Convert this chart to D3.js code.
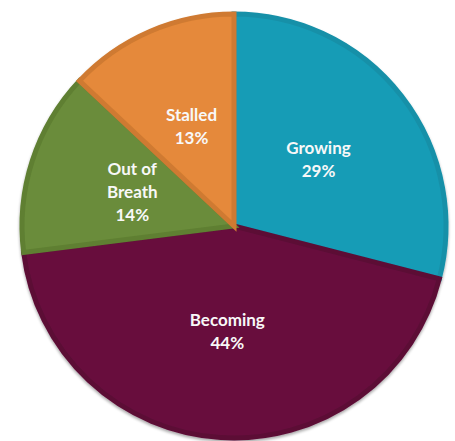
<!DOCTYPE html>
<html>
<head>
<meta charset="utf-8">
<script src="https://cdn.jsdelivr.net/npm/d3@7"></script>
<style>
  html, body { margin: 0; padding: 0; background: #ffffff; }
  svg { display: block; }
</style>
</head>
<body>
<svg id="chart" width="455" height="441"></svg>
<script>
// Segment shares, clockwise from 12 o'clock
const categories = ["Growing", "Becoming", "Out of Breath", "Stalled"];
const shares = [29, 44, 14, 13];
const labelLines = [["Growing"], ["Becoming"], ["Out of", "Breath"], ["Stalled"]];
const fills = ["#199cb6", "#680f3e", "#6a8c3a", "#e5893a"];
const edges = ["#1590a8", "#5c0c36", "#5e7f32", "#cf7a30"];

const svg = d3.select("#chart");
const cx = 234, cy = 226, r = 214;

const data = categories.map((c, i) => ({ name: c, value: shares[i], lines: labelLines[i], i }));

const pie = d3.pie().sort(null).value(d => d.value);
const arcs = pie(data);
const arc = d3.arc().innerRadius(0).outerRadius(r);
const innerArc = d3.arc().innerRadius(0).outerRadius(r - 2);

const g = svg.append("g").attr("transform", `translate(${cx},${cy})`);

// soft shadow under the disc
const defs = svg.append("defs");
const f = defs.append("filter").attr("id", "shadow").attr("x", "-10%").attr("y", "-10%").attr("width", "120%").attr("height", "120%");
f.append("feGaussianBlur").attr("in", "SourceAlpha").attr("stdDeviation", 1.5);
f.append("feOffset").attr("dx", 0).attr("dy", 1.5).attr("result", "b");
f.append("feComponentTransfer").append("feFuncA").attr("type", "linear").attr("slope", 0.35);
const m = f.append("feMerge");
m.append("feMergeNode");
m.append("feMergeNode").attr("in", "SourceGraphic");

const slices = g.append("g").attr("filter", "url(#shadow)");

slices.selectAll("path.slice")
  .data(arcs)
  .join("path")
  .attr("class", "slice")
  .attr("d", innerArc)
  .attr("fill", d => fills[d.data.i])
  .attr("stroke", d => edges[d.data.i])
  .attr("stroke-width", 5)
  .attr("stroke-linejoin", "miter");

// labels at the centroid of each slice
const lineH = 23;
g.selectAll("text.lab")
  .data(arcs)
  .join("text")
  .attr("class", "lab")
  .attr("text-anchor", "middle")
  .attr("font-family", "Lato, 'Open Sans', sans-serif")
  .attr("font-weight", "bold")
  .attr("font-size", 17)
  .attr("fill", "#f8f8f8")
  .each(function(d) {
    const [x, y] = arc.centroid(d);
    const lines = d.data.lines.concat([d.data.value + "%"]);
    const top = y - (lines.length - 1) * lineH / 2;
    d3.select(this).selectAll("tspan")
      .data(lines)
      .join("tspan")
      .attr("x", x)
      .attr("y", (t, k) => top + k * lineH)
      .attr("dy", "0.3em")
      .text(t => t);
  });
</script>
</body>
</html>
